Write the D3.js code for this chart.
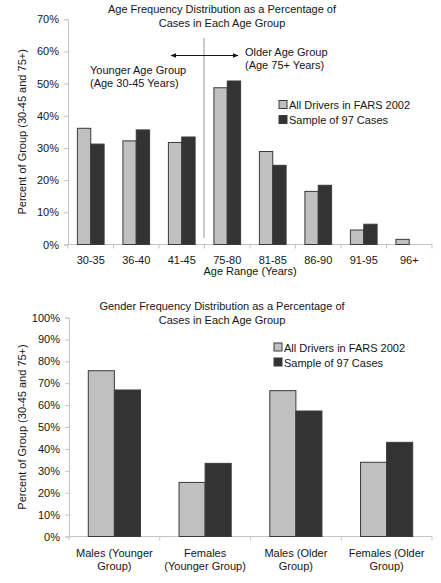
<!DOCTYPE html>
<html><head><meta charset="utf-8">
<script src="https://cdn.jsdelivr.net/npm/d3@7"></script>
<style>
body{margin:0;background:#fff;}
text{font-family:"Liberation Sans",Arial,sans-serif;fill:#151515;}
</style></head>
<body><svg id="c" width="441" height="583"></svg>
<script>
const ageCategories = ["30-35","36-40","41-45","75-80","81-85","86-90","91-95","96+"];
const ageFars = [0.361,0.322,0.317,0.487,0.289,0.165,0.045,0.016];
const ageSample = [0.312,0.356,0.334,0.508,0.246,0.184,0.063,null];
const ageTicks = [0,0.1,0.2,0.3,0.4,0.5,0.6,0.7];

const genderCategories = [["Males (Younger","Group)"],["Females","(Younger Group)"],["Males (Older","Group)"],["Females (Older","Group)"]];
const genderFars = [0.757,0.247,0.666,0.339];
const genderSample = [0.669,0.334,0.573,0.430];
const genderTicks = [0,0.1,0.2,0.3,0.4,0.5,0.6,0.7,0.8,0.9,1.0];

const seriesNames = ["All Drivers in FARS 2002","Sample of 97 Cases"];
const seriesColors = ["#c0c0c0","#333333"];
const yTitle = "Percent of Group (30-45 and 75+)";

const svg = d3.select("#c");
const fmt = d3.format(".0%");

function chart(opts){
  const g = svg.append("g");
  const cats = opts.cats.map((c,i)=>i);
  const x0 = d3.scaleBand().domain(cats).range([opts.left,opts.right]);
  const x1 = d3.scaleBand().domain([0,1]).range([opts.pad, x0.step()-opts.pad]);
  const y = d3.scaleLinear().domain([0,opts.ymax]).range([opts.bottom,opts.top]);

  const ya = g.append("g").attr("transform",`translate(${opts.left},0)`)
    .call(d3.axisLeft(y).tickValues(opts.ticks).tickFormat(fmt).tickSize(4).tickPadding(5));
  ya.selectAll("path,line").attr("stroke","#c4c4c4");
  ya.selectAll("text").attr("font-size",11).style("font-family","Liberation Sans, Arial, sans-serif").attr("fill","#151515");

  g.append("line").attr("x1",opts.left).attr("x2",opts.right).attr("y1",opts.bottom).attr("y2",opts.bottom).attr("stroke","#c4c4c4");
  const bounds = cats.map(c=>x0(c)).concat([opts.right]);
  g.selectAll(".xt").data(bounds).join("line").attr("x1",d=>d).attr("x2",d=>d)
    .attr("y1",opts.bottom).attr("y2",opts.bottom+4).attr("stroke","#c4c4c4");

  [opts.s0,opts.s1].forEach((vals,si)=>{
    g.selectAll(".b"+si).data(vals.map((v,i)=>({v,i})).filter(d=>d.v!=null)).join("rect")
      .attr("class","b"+si)
      .attr("x",d=>x0(d.i)+x1(si)).attr("width",x1.bandwidth())
      .attr("y",d=>y(d.v)).attr("height",d=>opts.bottom-y(d.v))
      .attr("fill",seriesColors[si]).attr("stroke","#3a3a3a").attr("stroke-width",1);
  });

  opts.cats.forEach((c,i)=>{
    const lines = Array.isArray(c)?c:[c];
    const t = g.append("text").attr("text-anchor","middle").attr("font-size",11)
      .attr("x",x0(i)+x0.step()/2).attr("y",opts.bottom+opts.labOff);
    lines.forEach((l,k)=>t.append("tspan").attr("x",x0(i)+x0.step()/2).attr("dy",k?13:0).text(l));
  });

  opts.title.forEach((l,k)=>g.append("text").attr("text-anchor","middle").attr("font-size",11)
    .attr("x",222).attr("y",opts.titleY+k*14).text(l));

  g.append("text").attr("text-anchor","middle").attr("font-size",11)
    .attr("transform",`translate(26,${(opts.top+opts.bottom)/2}) rotate(-90)`).text(yTitle);

  seriesNames.forEach((n,k)=>{
    const ly = opts.legY + k*15;
    g.append("rect").attr("x",opts.legX).attr("y",ly-4.5).attr("width",8).attr("height",8)
      .attr("fill",seriesColors[k]).attr("stroke","#3a3a3a").attr("stroke-width",1);
    g.append("text").attr("font-size",11).attr("x",opts.legX+10).attr("y",ly+4).text(n);
  });
  return {x0,y,g};
}

const topChart = chart({cats:ageCategories,s0:ageFars,s1:ageSample,ticks:ageTicks,ymax:0.7,
  left:68,right:432,top:19.2,bottom:244.5,pad:9.4,labOff:19.5,
  title:["Age Frequency Distribution as a Percentage of","Cases in Each Age Group"],titleY:13,
  legX:279,legY:105});

const tg = topChart.g;
const divX = topChart.x0(3) - 0.5;
tg.append("line").attr("x1",divX).attr("x2",divX).attr("y1",38).attr("y2",238).attr("stroke","#999").attr("stroke-width",1);
const defs = svg.append("defs");
defs.append("marker").attr("id","ah").attr("viewBox","0 0 10 10").attr("refX",9).attr("refY",5)
  .attr("markerWidth",6).attr("markerHeight",6).attr("orient","auto-start-reverse")
  .append("path").attr("d","M0,1 L10,5 L0,9 z").attr("fill","#151515");
tg.append("line").attr("x1",171).attr("x2",238).attr("y1",55.5).attr("y2",55.5)
  .attr("stroke","#151515").attr("stroke-width",1)
  .attr("marker-start","url(#ah)").attr("marker-end","url(#ah)");
[["Younger Age Group",90,74],["(Age 30-45 Years)",90,87],["Older Age Group",245,56],["(Age 75+ Years)",245,69]]
  .forEach(([t,x,y])=>tg.append("text").attr("font-size",11).attr("x",x).attr("y",y).text(t));
tg.append("text").attr("text-anchor","middle").attr("font-size",11).attr("x",250).attr("y",274.5).text("Age Range (Years)");

chart({cats:genderCategories,s0:genderFars,s1:genderSample,ticks:genderTicks,ymax:1.0,
  left:69,right:432,top:317.5,bottom:536.5,pad:19.3,labOff:20,
  title:["Gender Frequency Distribution as a Percentage of","Cases in Each Age Group"],titleY:310,
  legX:274,legY:347.5});
</script></body></html>
